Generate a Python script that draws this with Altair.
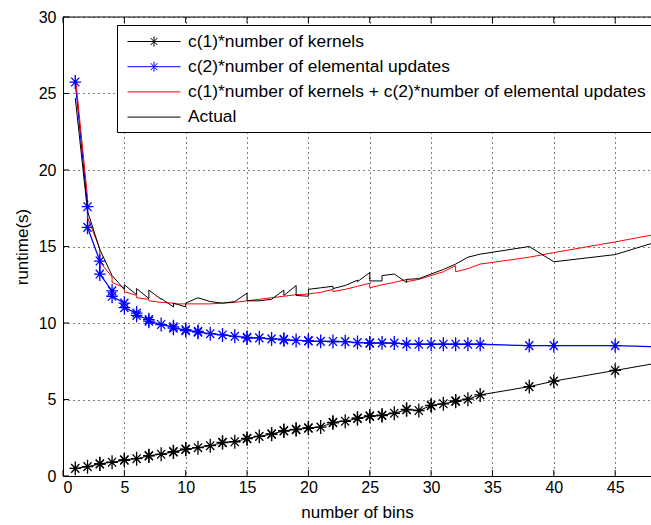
import altair as alt
import pandas as pd

# ---------------- data ----------------
S1 = "c(1)*number of kernels"
S2 = "c(2)*number of elemental updates"
S3 = "c(1)*number of kernels + c(2)*number of elemental updates"
S4 = "Actual"
names = [S1, S2, S3, S4]
colors = ["#000000", "#0000ff", "#ff0000", "#000000"]

kern_x = [1, 2, 3, 3, 4, 5, 5, 6, 7, 7, 8, 9, 9, 10, 10, 11, 12, 13, 13, 14, 15, 15, 16, 17, 17,
          18, 18, 19, 19, 20, 20, 21, 22, 22, 23, 24, 24, 25, 25, 26, 26, 27, 28, 28, 29, 30, 30,
          31, 32, 32, 33, 34, 38, 40, 45, 50]
kern_y = [0.50, 0.61, 0.78, 0.80, 0.90, 1.03, 1.06, 1.13, 1.31, 1.33, 1.42, 1.57, 1.59, 1.74, 1.76,
          1.85, 1.98, 2.18, 2.20, 2.24, 2.44, 2.46, 2.59, 2.73, 2.75, 2.94, 2.97, 3.03, 3.05, 3.12,
          3.15, 3.20, 3.48, 3.51, 3.58, 3.76, 3.78, 3.90, 3.93, 3.95, 3.97, 4.10, 4.33, 4.36, 4.28,
          4.60, 4.62, 4.72, 4.88, 4.91, 5.02, 5.30, 5.84, 6.20, 6.90, 7.60]

blue_x = [1, 2, 2, 3, 3, 4, 4, 5, 5, 6, 6, 7, 7, 8, 9, 9, 10, 10, 11, 11, 12, 13, 14, 15, 15, 16,
          17, 18, 18, 19, 20, 20, 21, 22, 23, 24, 25, 25, 26, 27, 28, 29, 30, 31, 32, 33, 34, 38,
          40, 45, 50]
blue_y = [25.75, 17.6, 16.25, 14.05, 13.2, 12.1, 11.75, 11.3, 11.0, 10.65, 10.5, 10.22, 10.12,
          9.9, 9.75, 9.66, 9.56, 9.5, 9.45, 9.4, 9.3, 9.22, 9.13, 9.06, 9.02, 9.03, 8.96, 8.93,
          8.9, 8.86, 8.85, 8.82, 8.8, 8.79, 8.78, 8.72, 8.7, 8.68, 8.7, 8.69, 8.62, 8.61, 8.61,
          8.61, 8.61, 8.61, 8.61, 8.52, 8.52, 8.52, 8.4]

red_x = [1, 2, 2, 3, 3, 4, 4, 5, 5, 6, 6, 7, 7, 8, 9, 9, 10, 11, 12, 13, 14, 15, 16, 17, 18, 19,
         20, 21, 22, 22, 23, 24, 25, 25, 26, 27, 28, 28, 29, 30, 31, 32, 32, 33, 34, 38, 40, 45, 50]
red_y = [26.2, 18.2, 16.9, 14.85, 14.0, 13.0, 12.65, 12.3, 12.05, 11.8, 11.65, 11.55, 11.45,
         11.35, 11.3, 11.25, 11.25, 11.25, 11.25, 11.3, 11.35, 11.45, 11.55, 11.65, 11.75, 11.85,
         11.9, 12.0, 12.2, 12.05, 12.2, 12.4, 12.6, 12.3, 12.5, 12.65, 12.85, 12.7, 12.85, 13.1,
         13.35, 13.75, 13.35, 13.55, 13.85, 14.3, 14.6, 15.3, 16.05]

act_x = [1, 2, 3, 4, 5, 5, 6, 6, 7, 7, 8, 8, 9, 9, 10, 10, 11, 12, 13, 14, 15, 15, 16, 17, 18, 18,
         19, 19, 20, 20, 21, 22, 22, 23, 24, 24, 25, 25, 26, 26, 27, 28, 28, 29, 30, 31, 32, 33,
         34, 38, 40, 45, 50]
act_y = [24.7, 17.3, 14.8, 13.1, 12.2, 12.5, 11.85, 12.25, 11.6, 12.15, 11.55, 11.6, 11.05, 11.3,
         11.05, 11.3, 11.65, 11.4, 11.3, 11.4, 11.95, 11.45, 11.45, 11.55, 12.15, 11.8, 12.45,
         11.8, 11.75, 12.2, 12.3, 12.4, 12.25, 12.45, 12.8, 12.7, 13.3, 12.75, 12.75, 13.1, 13.2,
         12.65, 12.85, 12.9, 13.2, 13.5, 13.85, 14.3, 14.5, 15.0, 14.0, 14.47, 15.7]

x_ticks = [0, 5, 10, 15, 20, 25, 30, 35, 40, 45]
y_ticks = [0, 5, 10, 15, 20, 25, 30]

# ---------------- build tables ----------------
def table(name, xs, ys):
    return pd.DataFrame({"series": name, "x": xs, "y": ys, "i": list(range(len(xs)))})

df_k = table(S1, kern_x, kern_y)
df_b = table(S2, blue_x, blue_y)
df_r = table(S3, red_x, red_y)
df_a = table(S4, act_x, act_y)
df_stars = pd.concat([df_k, df_b], ignore_index=True)
df_names = pd.DataFrame({"series": names})
df_xt = pd.DataFrame({"x": x_ticks})
df_yt = pd.DataFrame({"y": y_ticks})

W, H = 588, 459
FONT = "Liberation Sans"

xscale = alt.Scale(domain=[0, W / 12.27], nice=False, zero=False)
yscale = alt.Scale(domain=[0, 30], nice=False)
cscale = alt.Scale(domain=names, range=colors)

ASTER = "M-1,0L1,0M0,-1.2L0,1.2M-0.7,-0.75L0.7,0.75M-0.7,0.75L0.7,-0.75"
LEG_STAR = "M-2.65,0L2.65,0M0,-0.5L0,0.5M-0.33,-0.35L0.33,0.35M-0.33,0.35L0.33,-0.35"
LEG_LINE = "M-2.65,0L2.65,0"
sscale = alt.Scale(domain=names, range=[LEG_STAR, LEG_STAR, LEG_LINE, LEG_LINE])

xaxis = alt.Axis(values=x_ticks, grid=True, gridColor="#000000", gridDash=[1, 4], gridWidth=1,
                 domainColor="#000000", domainWidth=1, tickSize=0, labelFont=FONT,
                 labelFontSize=16, labelColor="#000000", labelPadding=3,
                 title="number of bins", titleFont=FONT, titleFontSize=17,
                 titleFontWeight="normal", titleColor="#000000", titlePadding=9)
yaxis = alt.Axis(values=y_ticks, grid=True, gridColor="#000000", gridDash=[1, 4], gridWidth=1,
                 domainColor="#000000", domainWidth=1, tickSize=0, labelFont=FONT,
                 labelFontSize=16, labelColor="#000000", labelPadding=7,
                 title="runtime(s)", titleFont=FONT, titleFontSize=17,
                 titleFontWeight="normal", titleColor="#000000", titlePadding=7)

legend = alt.Legend(title=None, orient="none", legendX=54, legendY=8, fillColor="white",
                    strokeColor="#000000", padding=6, labelFont=FONT, labelFontSize=17.4,
                    labelColor="#000000", labelLimit=2000,
                    labelExpr="datum.label + '\u00a0\u00a0\u00a0'",
                    symbolSize=400, symbolStrokeWidth=1,
                    symbolOpacity=1, rowPadding=6.2, symbolOffset=20.5, labelOffset=23.5,
                    cornerRadius=0)

X = alt.X("x:Q", scale=xscale, axis=xaxis)
Y = alt.Y("y:Q", scale=yscale, axis=yaxis)
C = alt.Color("series:N", scale=cscale, legend=legend)


def line_layer(df, width=1.0):
    return alt.Chart(df).mark_line(clip=True, strokeWidth=width).encode(
        x=X, y=Y, color=C, order="i:Q")


lines = [line_layer(df_k), line_layer(df_b, 1.3), line_layer(df_r), line_layer(df_a)]

stars = alt.Chart(df_stars).mark_point(shape=ASTER, filled=False, size=135, strokeWidth=1.3,
                                       clip=True, opacity=1).encode(x=X, y=Y, color=C)

legend_layer = alt.Chart(df_names).mark_point(filled=False, opacity=0).encode(
    color=C, shape=alt.Shape("series:N", scale=sscale, legend=legend))

top_border = alt.Chart(df_names.head(1)).mark_rule(color="#000000", strokeWidth=1).encode(
    y=alt.Y(datum=30, scale=yscale, axis=yaxis), x=alt.value(0), x2=alt.value(W))

bottom_ticks = alt.Chart(df_xt).mark_rule(color="#000000", strokeWidth=1).encode(
    x=X, y=alt.value(H), y2=alt.value(H - 6))
top_ticks = alt.Chart(df_xt).mark_rule(color="#000000", strokeWidth=1).encode(
    x=X, y=alt.value(0), y2=alt.value(6))
left_ticks = alt.Chart(df_yt).mark_rule(color="#000000", strokeWidth=1).encode(
    y=Y, x=alt.value(0), x2=alt.value(6))

chart = alt.layer(
    top_border, bottom_ticks, top_ticks, left_ticks, *lines, stars, legend_layer
).properties(
    width=W, height=H,
    autosize=alt.AutoSizeParams(type="none"),
    padding={"left": 63, "top": 17, "right": 0, "bottom": 49},
    background="white",
).configure_view(stroke=None)

chart.save("out.html", embed_options={"renderer": "svg", "actions": False})
